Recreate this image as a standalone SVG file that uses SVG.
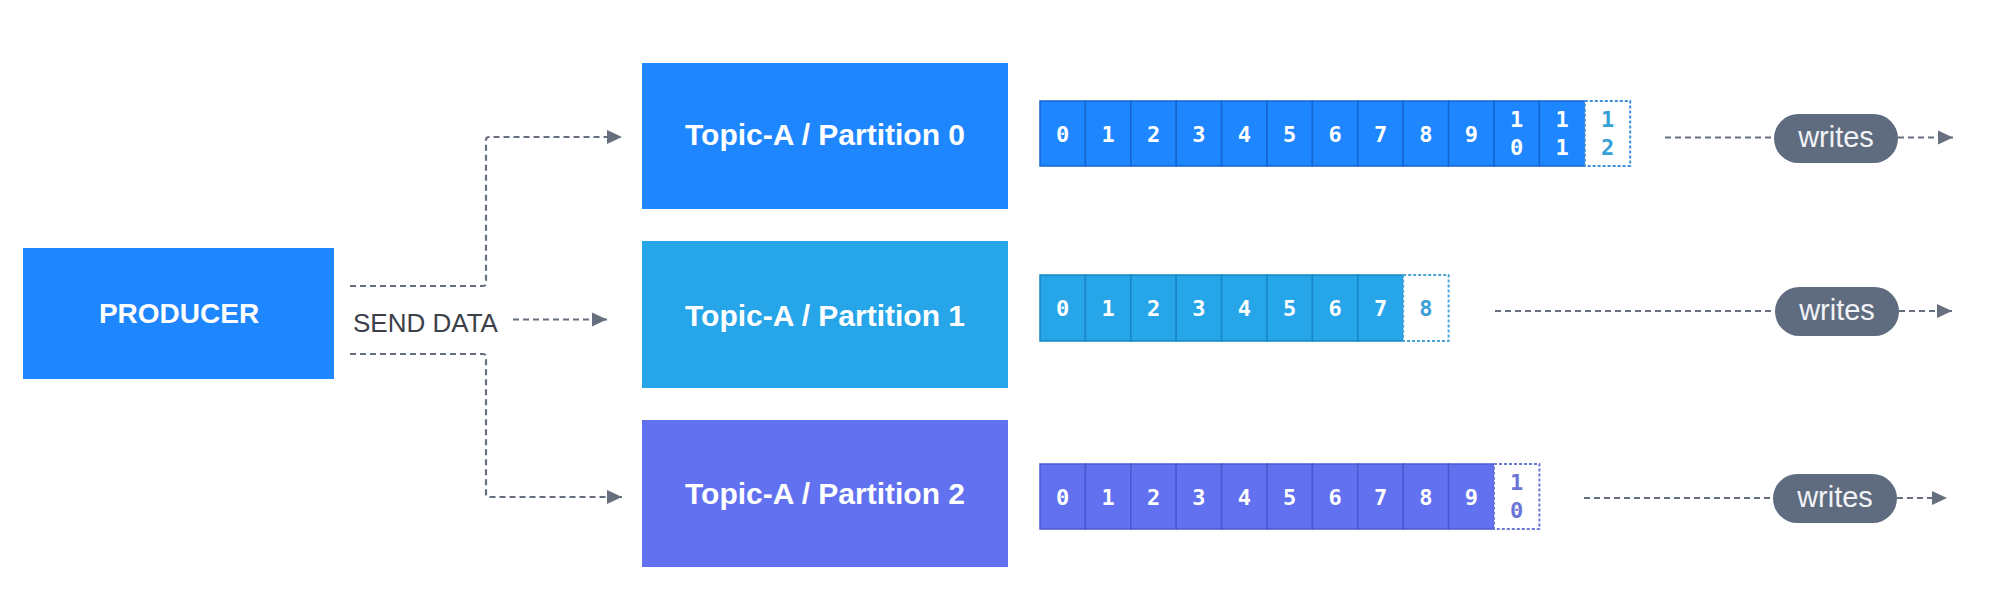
<svg xmlns="http://www.w3.org/2000/svg" width="2000" height="591" viewBox="0 0 2000 591">
<defs>
<marker id="arrow" markerUnits="userSpaceOnUse" markerWidth="16" markerHeight="16" refX="15" refY="8" orient="auto">
<path d="M0,1 L15,8 L0,15 Z" fill="#666f7e"/>
</marker>
<style>
.conn{fill:none;stroke:#666f7e;stroke-width:2.2;stroke-dasharray:6 4;}
.box-text{font-family:"Liberation Sans",Arial,sans-serif;font-weight:bold;fill:#ffffff;text-anchor:middle;}
.label{font-family:"Liberation Sans",Arial,sans-serif;font-size:26px;fill:#3b4049;}
.cell-text{font-family:"DejaVu Sans Mono","Liberation Mono",monospace;font-size:22px;font-weight:bold;text-anchor:middle;}
.c0{fill:#1E86FF;stroke:#1566cf;stroke-width:1.5;}
.c1{fill:#26A5E9;stroke:#1a86c4;stroke-width:1.5;}
.c2{fill:#6171EF;stroke:#4a59cf;stroke-width:1.5;}
.pill{fill:#5f6c80;}
.pill-text{font-family:"Liberation Sans",Arial,sans-serif;font-size:29px;fill:#f1f3f6;text-anchor:middle;}
</style>
</defs>
<rect width="2000" height="591" fill="#ffffff"/>

<g id="producer">
<rect x="23" y="248" width="311" height="131" fill="#1E86FF"/>
<text class="box-text" x="179" y="323" font-size="28">PRODUCER</text>
</g>

<g id="topic-0">
<rect x="642" y="63" width="366" height="146" fill="#1E86FF"/>
<text class="box-text" x="825" y="145" font-size="30">Topic-A / Partition 0</text>
</g>
<g id="topic-1">
<rect x="642" y="241" width="366" height="147" fill="#26A5E9"/>
<text class="box-text" x="825" y="326" font-size="30">Topic-A / Partition 1</text>
</g>
<g id="topic-2">
<rect x="642" y="420" width="366" height="147" fill="#6171EF"/>
<text class="box-text" x="825" y="504" font-size="30">Topic-A / Partition 2</text>
</g>

<g id="log-0">
<g class="c0">
<rect x="1040" y="101" width="45.4" height="65"/>
<rect x="1085.4" y="101" width="45.4" height="65"/>
<rect x="1130.8" y="101" width="45.4" height="65"/>
<rect x="1176.2" y="101" width="45.4" height="65"/>
<rect x="1221.6" y="101" width="45.4" height="65"/>
<rect x="1267" y="101" width="45.4" height="65"/>
<rect x="1312.4" y="101" width="45.4" height="65"/>
<rect x="1357.8" y="101" width="45.4" height="65"/>
<rect x="1403.2" y="101" width="45.4" height="65"/>
<rect x="1448.6" y="101" width="45.4" height="65"/>
<rect x="1494" y="101" width="45.4" height="65"/>
<rect x="1539.4" y="101" width="45.4" height="65"/>
</g>
<rect x="1584.8" y="101" width="45.4" height="65" fill="#ffffff" stroke="#3d8fdc" stroke-width="2" stroke-dasharray="3 2"/>
<g class="cell-text" fill="#ffffff">
<text x="1062.7" y="141.5">0</text>
<text x="1108.1" y="141.5">1</text>
<text x="1153.5" y="141.5">2</text>
<text x="1198.9" y="141.5">3</text>
<text x="1244.3" y="141.5">4</text>
<text x="1289.7" y="141.5">5</text>
<text x="1335.1" y="141.5">6</text>
<text x="1380.5" y="141.5">7</text>
<text x="1425.9" y="141.5">8</text>
<text x="1471.3" y="141.5">9</text>
<text x="1516.7" y="126.5">1</text>
<text x="1516.7" y="154.5">0</text>
<text x="1562.1" y="126.5">1</text>
<text x="1562.1" y="154.5">1</text>
</g>
<g class="cell-text" fill="#35a0d6">
<text x="1607.5" y="126.5">1</text>
<text x="1607.5" y="154.5">2</text>
</g>
</g>

<g id="log-1">
<g class="c1">
<rect x="1040" y="275" width="45.4" height="66"/>
<rect x="1085.4" y="275" width="45.4" height="66"/>
<rect x="1130.8" y="275" width="45.4" height="66"/>
<rect x="1176.2" y="275" width="45.4" height="66"/>
<rect x="1221.6" y="275" width="45.4" height="66"/>
<rect x="1267" y="275" width="45.4" height="66"/>
<rect x="1312.4" y="275" width="45.4" height="66"/>
<rect x="1357.8" y="275" width="45.4" height="66"/>
</g>
<rect x="1403.2" y="275" width="45.4" height="66" fill="#ffffff" stroke="#4aa4d6" stroke-width="2" stroke-dasharray="3 2"/>
<g class="cell-text" fill="#ffffff">
<text x="1062.7" y="316">0</text>
<text x="1108.1" y="316">1</text>
<text x="1153.5" y="316">2</text>
<text x="1198.9" y="316">3</text>
<text x="1244.3" y="316">4</text>
<text x="1289.7" y="316">5</text>
<text x="1335.1" y="316">6</text>
<text x="1380.5" y="316">7</text>
</g>
<text class="cell-text" fill="#3d9fd4" x="1425.9" y="316">8</text>
</g>

<g id="log-2">
<g class="c2">
<rect x="1040" y="464" width="45.4" height="65"/>
<rect x="1085.4" y="464" width="45.4" height="65"/>
<rect x="1130.8" y="464" width="45.4" height="65"/>
<rect x="1176.2" y="464" width="45.4" height="65"/>
<rect x="1221.6" y="464" width="45.4" height="65"/>
<rect x="1267" y="464" width="45.4" height="65"/>
<rect x="1312.4" y="464" width="45.4" height="65"/>
<rect x="1357.8" y="464" width="45.4" height="65"/>
<rect x="1403.2" y="464" width="45.4" height="65"/>
<rect x="1448.6" y="464" width="45.4" height="65"/>
</g>
<rect x="1494" y="464" width="45.4" height="65" fill="#ffffff" stroke="#6b78d8" stroke-width="2" stroke-dasharray="3 2"/>
<g class="cell-text" fill="#ffffff">
<text x="1062.7" y="504.5">0</text>
<text x="1108.1" y="504.5">1</text>
<text x="1153.5" y="504.5">2</text>
<text x="1198.9" y="504.5">3</text>
<text x="1244.3" y="504.5">4</text>
<text x="1289.7" y="504.5">5</text>
<text x="1335.1" y="504.5">6</text>
<text x="1380.5" y="504.5">7</text>
<text x="1425.9" y="504.5">8</text>
<text x="1471.3" y="504.5">9</text>
</g>
<g class="cell-text" fill="#6a74d6">
<text x="1516.7" y="489.5">1</text>
<text x="1516.7" y="517.5">0</text>
</g>
</g>

<g id="writes-0">
<rect class="pill" x="1774" y="114" width="124" height="49" rx="24.5"/>
<text class="pill-text" x="1836" y="146.5">writes</text>
</g>
<g id="writes-1">
<rect class="pill" x="1775" y="287" width="124" height="49" rx="24.5"/>
<text class="pill-text" x="1837" y="319.5">writes</text>
</g>
<g id="writes-2">
<rect class="pill" x="1773" y="474" width="124" height="49" rx="24.5"/>
<text class="pill-text" x="1835" y="506.5">writes</text>
</g>

<text id="send-data" class="label" x="353" y="332">SEND DATA</text>

<g id="connectors">
<path class="conn" d="M350,286 H483 Q486,286 486,283 V140 Q486,137 489,137 H622" marker-end="url(#arrow)"/>
<path class="conn" d="M513,319.5 H607" marker-end="url(#arrow)"/>
<path class="conn" d="M350,354 H483 Q486,354 486,357 V494 Q486,497 489,497 H622" marker-end="url(#arrow)"/>
<path class="conn" d="M1665,137.5 H1774"/>
<path class="conn" d="M1898,137.5 H1953" marker-end="url(#arrow)"/>
<path class="conn" d="M1495,311 H1775"/>
<path class="conn" d="M1899,311 H1952" marker-end="url(#arrow)"/>
<path class="conn" d="M1584,498 H1773"/>
<path class="conn" d="M1897,498 H1947" marker-end="url(#arrow)"/>
</g>
</svg>
